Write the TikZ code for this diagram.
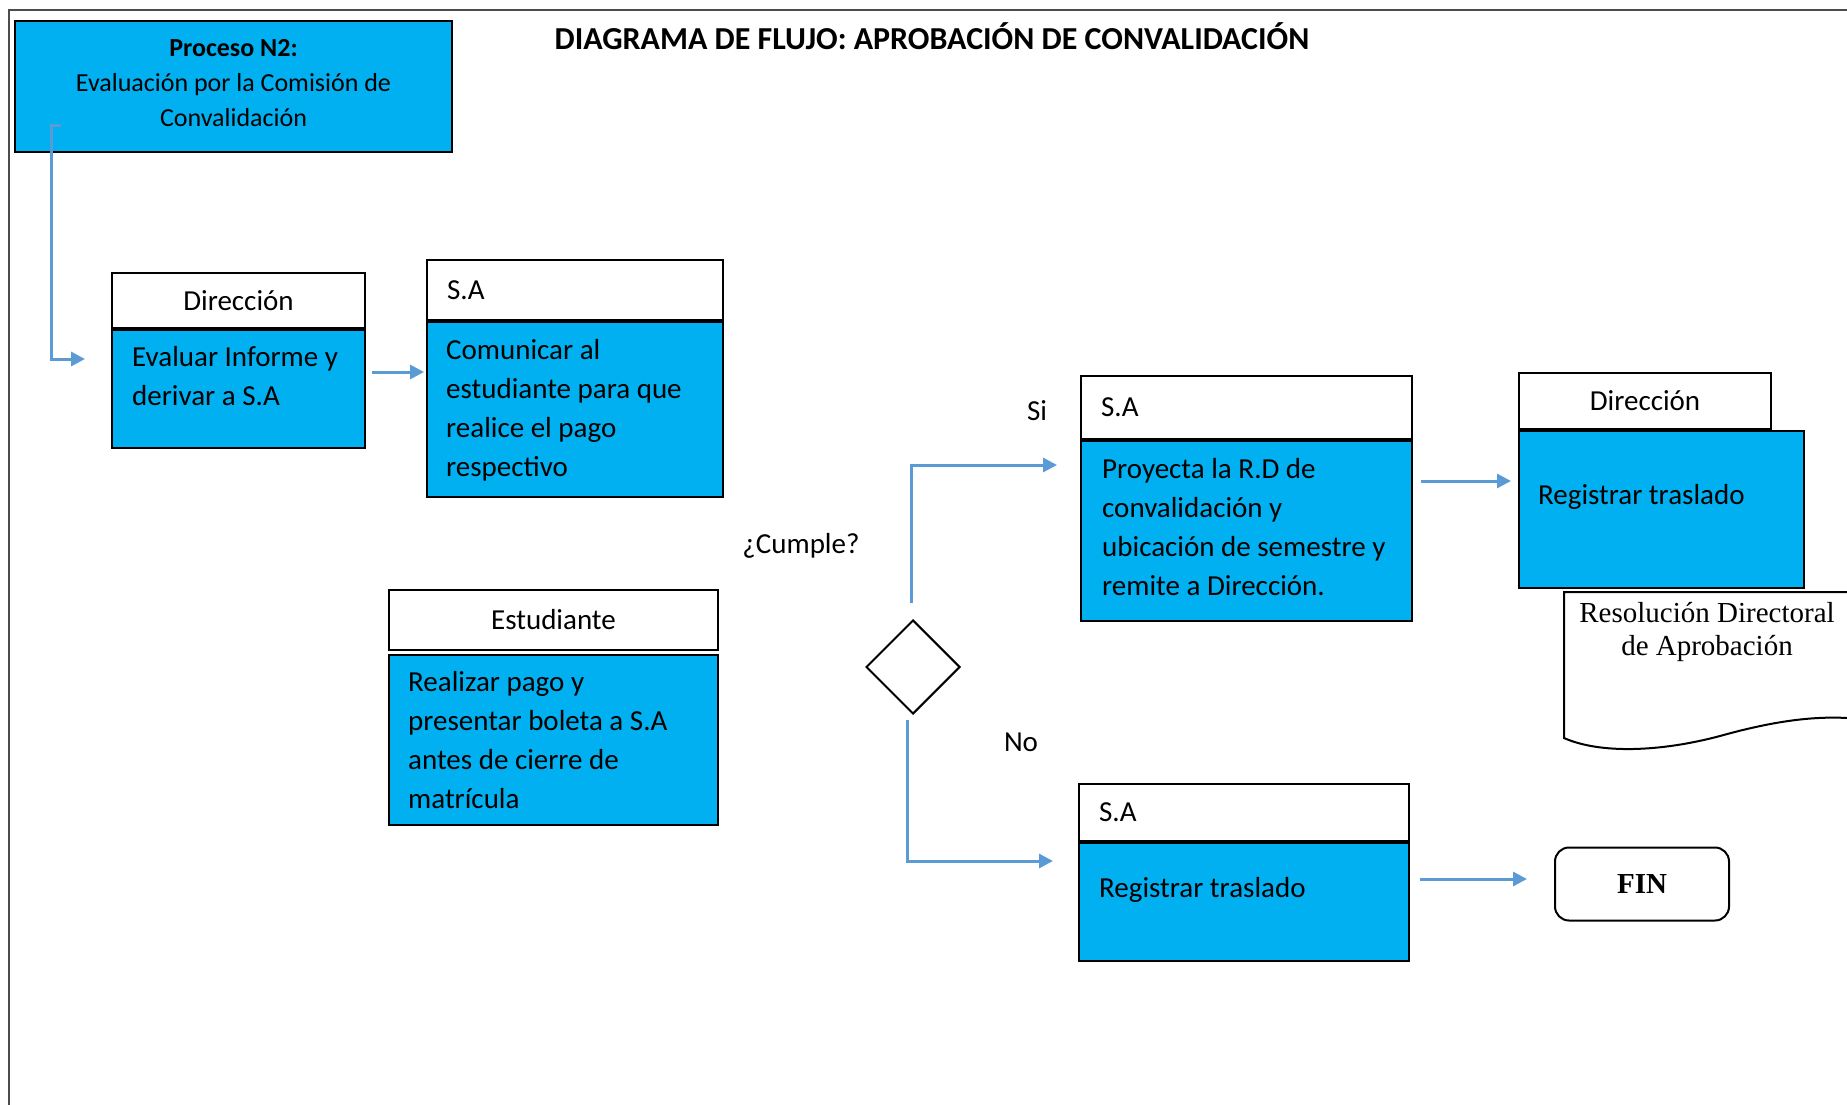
\documentclass[tikz,border=0pt]{standalone}
\usepackage{fontspec}
\setmainfont{Carlito}
\newfontfamily\serifdoc{Liberation Serif}
\usetikzlibrary{positioning,shapes.geometric,arrows.meta,calc}
\definecolor{boxblue}{HTML}{00B0F0}
\definecolor{flecha}{HTML}{5B9BD5}

\begin{document}
\begin{tikzpicture}[x=1pt,y=-1pt,
		caja/.style={draw=black,line width=2pt,fill=boxblue,anchor=north west,inner sep=0pt},
		cabeza/.style={draw=black,line width=2pt,fill=white,anchor=north west,inner sep=0pt,font=\fontsize{29}{35}\selectfont},
		texto/.style={anchor=north west,align=left,inner sep=0pt,font=\fontsize{29}{39}\selectfont},
		etiqueta/.style={inner sep=0pt,font=\fontsize{29}{35}\selectfont},
		flujo/.style={draw=flecha,line width=3pt,-{Triangle[length=14pt,width=14pt]}}]
				\useasboundingbox (0,0) rectangle (1847,1105);
				\draw[line width=2pt,black!70] (9,1105) -- (9,10) -- (1847,10);
				
				\node[font=\bfseries\fontsize{32}{38}\selectfont] (titulo) at (932,36) {DIAGRAMA DE FLUJO: APROBACIÓN DE CONVALIDACIÓN};
				
				\node[caja,minimum width=437,minimum height=131] (proc) at (14,20) {};
				\node[align=center,inner sep=0pt,font=\fontsize{26}{35}\selectfont] (procT) at ([shift={(0,-3)}]proc.center)
				{\textbf{Proceso N2:}\\Evaluación por la Comisión de\\Convalidación};
				
				\node[cabeza,minimum width=253,minimum height=55] (dirH) at (111,272) {Dirección};
				\node[caja,minimum width=253,minimum height=118] (dirB) at (dirH.south west) {};
				\node[texto] (dirT) at ([shift={(21,17)}]dirB.north west) {Evaluar Informe y\\derivar a S.A};
				
				\node[cabeza,minimum width=296,minimum height=60,text width=256,align=left,inner xsep=20pt] (saH) at (426,259) {S.A};
				\node[caja,minimum width=296,minimum height=175] (saB) at (saH.south west) {};
				\node[texto] (saT) at ([shift={(20,18)}]saB.north west) {Comunicar al\\estudiante para que\\realice el pago\\respectivo};
				
				\node[cabeza,minimum width=329,minimum height=60] (estH) at (388,589) {Estudiante};
				\node[caja,minimum width=329,minimum height=170] (estB) at ([shift={(0,3)}]estH.south west) {};
				\node[texto] (estT) at ([shift={(20,17)}]estB.north west) {Realizar pago y\\presentar boleta a S.A\\antes de cierre de\\matrícula};
				
				\node[etiqueta] (cumple) at (801,546) {¿Cumple?};
				\node[draw,diamond,line width=2pt,minimum width=94,minimum height=94,inner sep=0pt] (dec) at (913,667) {};
				\node[etiqueta] (si) at (1037,411) {Si};
				\node[etiqueta] (no) at (1021,742) {No};
				
				\node[cabeza,minimum width=331,minimum height=63,text width=291,align=left,inner xsep=20pt] (saPH) at (1080,375) {S.A};
				\node[caja,minimum width=331,minimum height=180] (saPB) at (saPH.south west) {};
				\node[texto] (saPT) at ([shift={(22,18)}]saPB.north west) {Proyecta la R.D de\\convalidación y\\ubicación de semestre y\\remite a Dirección.};
				
				\node[cabeza,minimum width=252,minimum height=56] (dirRH) at (1518,372) {Dirección};
				\node[caja,minimum width=285,minimum height=157] (dirRB) at (dirRH.south west) {};
				\node[texto] (dirRT) at ([shift={(20,54)}]dirRB.north west) {Registrar traslado};
				
				\draw[line width=2pt] (1847,592) -- (1564,592) -- (1564,738)
				.. controls (1600,754) and (1660,752) .. (1720,736)
				.. controls (1770,722) and (1810,716) .. (1847,718);
				\node[align=center,inner sep=0pt,font=\serifdoc\fontsize{29}{33}\selectfont] (resT) at (1707,632) {Resolución Directoral\\de Aprobación};
				
				\node[cabeza,minimum width=330,minimum height=57,text width=290,align=left,inner xsep=20pt] (saRH) at (1078,783) {S.A};
				\node[caja,minimum width=330,minimum height=118] (saRB) at (saRH.south west) {};
				\node[texto] (saRT) at ([shift={(21,35)}]saRB.north west) {Registrar traslado};
				
				\node[draw,line width=2pt,rounded corners=14pt,minimum width=174,minimum height=73,font=\serifdoc\bfseries\fontsize{29}{35}\selectfont] (fin) at (1642,884) {FIN};
				
				\draw[flujo] ([shift={(47,106)}]proc.north west) -- ++(-10,0) |- ([shift={(-26,-30)}]dirB.west);
				\draw[flujo,shorten >=2pt] ([shift={(6,-17)}]dirB.east) coordinate (p1) -- (p1 -| saB.west);
				\draw[flujo] ([shift={(-2,-16)}]dec.north) |- ([shift={(-23,-66)}]saPB.west);
				\draw[flujo] ([shift={(-6,5)}]dec.south) |- ([shift={(-25,-41)}]saRB.west);
				\draw[flujo,shorten >=7pt] ([shift={(8,-50)}]saPB.east) coordinate (p2) -- (p2 -| dirRB.west);
				\draw[flujo,shorten >=27pt] ([shift={(10,-23)}]saRB.east) coordinate (p3) -- (p3 -| fin.west);
			\end{tikzpicture}
\end{document}
